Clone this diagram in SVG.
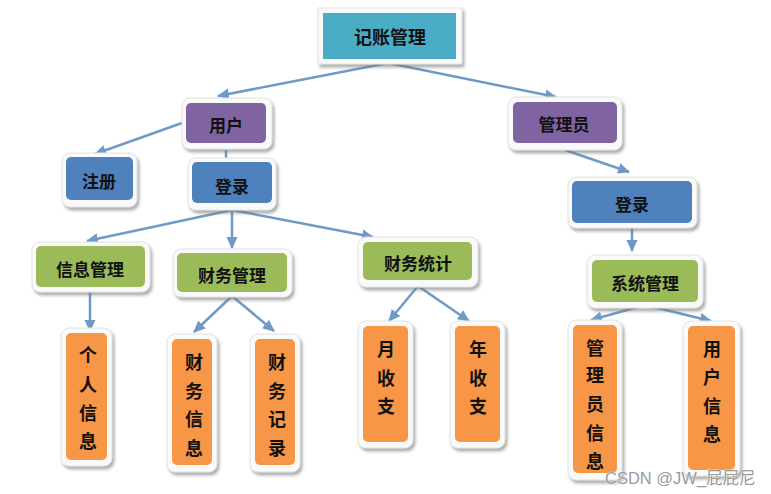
<svg xmlns="http://www.w3.org/2000/svg" width="771" height="494" viewBox="0 0 771 494">
<defs>
<filter id="sh" x="-20%" y="-20%" width="150%" height="150%">
<feDropShadow dx="2" dy="3" stdDeviation="1.5" flood-color="#7a7a7a" flood-opacity="0.6"/>
</filter>
<marker id="ah" markerUnits="userSpaceOnUse" markerWidth="12" markerHeight="12" viewBox="0 0 12 12" refX="11" refY="6" orient="auto">
<path d="M0,0.5 L12,6 L0,11.5 Z" fill="#6f9ac6"/>
</marker>
</defs>
<style>
.frame{fill:#fafafa;stroke:#e2e2e2;stroke-width:1;filter:url(#sh)}
.teal{fill:#4bacc6}
.purple{fill:#8064a2}
.blue{fill:#4f81bd}
.green{fill:#9bbb59}
.orange{fill:#f79646}
.t{font-family:"Noto Sans CJK SC","Noto Sans CJK JP",serif;font-weight:bold;font-size:17px;fill:#111;text-anchor:middle;dominant-baseline:central}
.v{font-size:18px}
.c{stroke:#6f9ac6;stroke-width:2.5;fill:none}
.wm{font-family:"Liberation Sans","Noto Sans CJK SC",sans-serif;font-size:16.5px;fill:#9a9a9a;stroke:#ffffff;stroke-width:0.6;paint-order:stroke}
</style>
<rect width="771" height="494" fill="#ffffff"/>
<g id="connectors">
<line class="c" x1="388" y1="63" x2="218" y2="96" marker-end="url(#ah)"/>
<line class="c" x1="388" y1="63" x2="556" y2="97" marker-end="url(#ah)"/>
<line class="c" x1="182" y1="123" x2="95" y2="154" marker-end="url(#ah)"/>
<line class="c" x1="226" y1="150" x2="226" y2="160"/>
<line class="c" x1="232" y1="210" x2="87" y2="241" marker-end="url(#ah)"/>
<line class="c" x1="232" y1="210" x2="232" y2="248" marker-end="url(#ah)"/>
<line class="c" x1="232" y1="210" x2="373" y2="237" marker-end="url(#ah)"/>
<line class="c" x1="90" y1="292" x2="90" y2="331" marker-end="url(#ah)"/>
<line class="c" x1="232" y1="296" x2="194" y2="332" marker-end="url(#ah)"/>
<line class="c" x1="232" y1="296" x2="274" y2="331" marker-end="url(#ah)"/>
<line class="c" x1="418" y1="286" x2="389" y2="321" marker-end="url(#ah)"/>
<line class="c" x1="418" y1="286" x2="469" y2="321" marker-end="url(#ah)"/>
<line class="c" x1="565" y1="150" x2="629" y2="172" marker-end="url(#ah)"/>
<line class="c" x1="632" y1="228" x2="632" y2="251" marker-end="url(#ah)"/>
<line class="c" x1="645" y1="305" x2="591" y2="320" marker-end="url(#ah)"/>
<line class="c" x1="645" y1="305" x2="711" y2="321" marker-end="url(#ah)"/>
</g>
<g id="n-root">
<rect class="frame" x="318" y="8" width="144" height="56"/>
<rect class="teal" x="323" y="13" width="133" height="46"/>
<text class="t" x="390" y="36" style="font-size:18px">记账管理</text>
</g>
<g id="n-user">
<rect class="frame" x="182" y="98" width="90" height="51" rx="8"/>
<rect class="purple" x="186" y="103" width="80" height="40" rx="5"/>
<text class="t" x="226" y="124">用户</text>
</g>
<g id="n-admin">
<rect class="frame" x="508" y="97" width="114" height="53" rx="8"/>
<rect class="purple" x="513" y="102" width="104" height="41" rx="5"/>
<text class="t" x="564" y="123">管理员</text>
</g>
<g id="n-register">
<rect class="frame" x="62" y="153" width="75" height="54" rx="8"/>
<rect class="blue" x="66" y="157" width="67" height="43" rx="5"/>
<text class="t" x="99" y="180">注册</text>
</g>
<g id="n-login1">
<rect class="frame" x="188" y="158" width="88" height="52" rx="8"/>
<rect class="blue" x="192" y="162" width="80" height="41" rx="5"/>
<text class="t" x="232" y="185">登录</text>
</g>
<g id="n-login2">
<rect class="frame" x="568" y="177" width="129" height="51" rx="8"/>
<rect class="blue" x="572" y="181" width="120" height="42" rx="5"/>
<text class="t" x="632" y="203">登录</text>
</g>
<g id="n-info">
<rect class="frame" x="32" y="242" width="118" height="50" rx="8"/>
<rect class="green" x="36" y="246" width="109" height="41" rx="5"/>
<text class="t" x="90" y="268">信息管理</text>
</g>
<g id="n-fin">
<rect class="frame" x="173" y="249" width="119" height="48" rx="8"/>
<rect class="green" x="177" y="253" width="110" height="39" rx="5"/>
<text class="t" x="232" y="274">财务管理</text>
</g>
<g id="n-stat">
<rect class="frame" x="358" y="237" width="120" height="50" rx="8"/>
<rect class="green" x="363" y="242" width="109" height="38" rx="5"/>
<text class="t" x="418" y="262">财务统计</text>
</g>
<g id="n-sys">
<rect class="frame" x="587" y="255" width="116" height="53" rx="8"/>
<rect class="green" x="592" y="260" width="106" height="42" rx="5"/>
<text class="t" x="645" y="282">系统管理</text>
</g>
<g id="n-personal">
<rect class="frame" x="61" y="328" width="51" height="138" rx="8"/>
<rect class="orange" x="66" y="333" width="41" height="127" rx="5"/>
<text class="t v" x="88" y="354">个</text>
<text class="t v" x="88" y="383">人</text>
<text class="t v" x="88" y="412">信</text>
<text class="t v" x="88" y="440">息</text>
</g>
<g id="n-fininfo">
<rect class="frame" x="167" y="334" width="50" height="138" rx="8"/>
<rect class="orange" x="172" y="339" width="40" height="126" rx="5"/>
<text class="t v" x="194" y="361">财</text>
<text class="t v" x="194" y="390">务</text>
<text class="t v" x="194" y="418">信</text>
<text class="t v" x="194" y="447">息</text>
</g>
<g id="n-finrec">
<rect class="frame" x="250" y="334" width="50" height="138" rx="8"/>
<rect class="orange" x="255" y="339" width="40" height="126" rx="5"/>
<text class="t v" x="277" y="361">财</text>
<text class="t v" x="277" y="390">务</text>
<text class="t v" x="277" y="418">记</text>
<text class="t v" x="277" y="447">录</text>
</g>
<g id="n-month">
<rect class="frame" x="358" y="321" width="55" height="127" rx="8"/>
<rect class="orange" x="363" y="326" width="45" height="116" rx="5"/>
<text class="t v" x="386" y="348">月</text>
<text class="t v" x="386" y="377">收</text>
<text class="t v" x="386" y="405">支</text>
</g>
<g id="n-year">
<rect class="frame" x="450" y="321" width="55" height="127" rx="8"/>
<rect class="orange" x="455" y="326" width="45" height="116" rx="5"/>
<text class="t v" x="478" y="348">年</text>
<text class="t v" x="478" y="377">收</text>
<text class="t v" x="478" y="405">支</text>
</g>
<g id="n-admininfo">
<rect class="frame" x="568" y="320" width="54" height="160" rx="8"/>
<rect class="orange" x="573" y="325" width="44" height="148" rx="5"/>
<text class="t v" x="595" y="347">管</text>
<text class="t v" x="595" y="374">理</text>
<text class="t v" x="595" y="403">员</text>
<text class="t v" x="595" y="432">信</text>
<text class="t v" x="595" y="460">息</text>
</g>
<g id="n-userinfo">
<rect class="frame" x="683" y="321" width="57" height="155" rx="8"/>
<rect class="orange" x="688" y="326" width="47" height="144" rx="5"/>
<text class="t v" x="712" y="348">用</text>
<text class="t v" x="712" y="376">户</text>
<text class="t v" x="712" y="405">信</text>
<text class="t v" x="712" y="433">息</text>
</g>
<text class="wm" x="605" y="484">CSDN @JW_屁屁尼</text>
</svg>
